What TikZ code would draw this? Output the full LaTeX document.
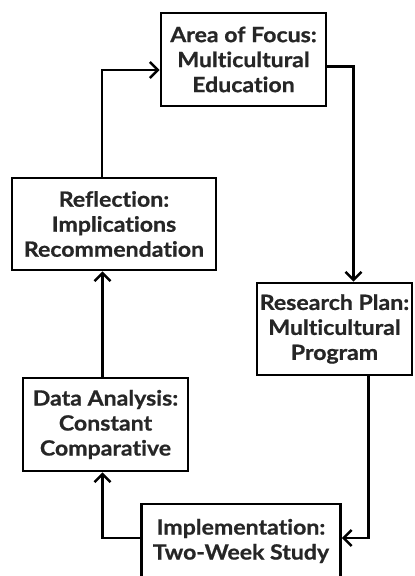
\documentclass[tikz,border=0pt]{standalone}
\usepackage{fontspec}
\setmainfont{Lato}[Ligatures=NoCommon, BoldFeatures={FakeStretch=1.1, FakeBold=0.8}]
\usetikzlibrary{arrows.meta}
\begin{document}
\begin{tikzpicture}[x=1pt, y=-1pt,
        stage/.style={draw, line width=2.8pt, align=center, inner sep=0pt,
            font=\bfseries\fontsize{21}{25}\selectfont, text=black!85},
        flow/.style={-{Straight Barb[length=8pt, width=16pt, line width=2.5pt]}, line width=2.5pt}]
        \clip (0, 0) rectangle (415, 576);

        \node[stage, minimum width=165pt, minimum height=93pt] (focus) at (243.5, 59.5) {Area of Focus:\\Multicultural\\Education};
        \node[stage, minimum width=204pt, minimum height=92pt] (reflect) at (114, 224) {Reflection:\\Implications\\Recommendation};
        \node[stage, minimum width=155pt, minimum height=92pt] (plan) at (334.5, 329) {Research Plan:\\Multicultural\\Program};
        \node[stage, minimum width=165pt, minimum height=93pt] (data) at (105.5, 424.5) {Data Analysis:\\Constant\\Comparative};
        \node[stage, minimum width=199pt, minimum height=74pt] (impl) at (241, 541) {Implementation:\\Two-Week Study};

        \draw[flow] ([yshift=-7pt]focus.east) -| ([xshift=19pt]plan.north);
        \draw[flow] ([xshift=34pt]plan.south) |- ([yshift=3pt]impl.east);
        \draw[flow] ([yshift=3pt]impl.west) -| ([xshift=-3pt]data.south);
        \draw[flow] ([xshift=-3pt]data.north) -- ([xshift=-3pt]data.north |- reflect.south);
        \draw[flow] ([xshift=-12pt]reflect.north) |- ([yshift=-10.5pt]focus.west);
    \end{tikzpicture}
\end{document}
